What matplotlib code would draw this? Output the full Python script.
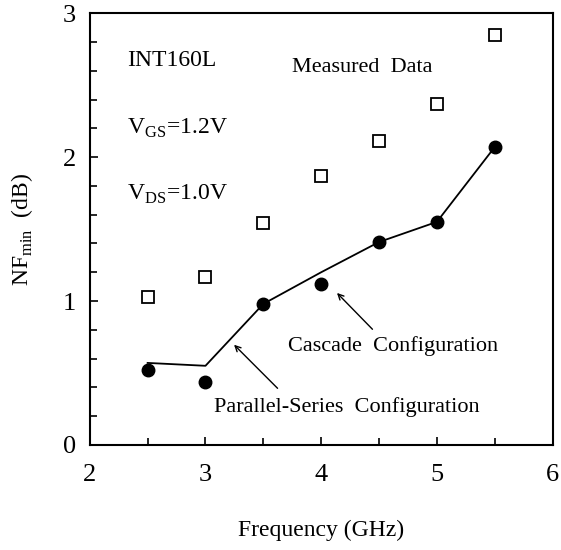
import matplotlib.pyplot as plt
from matplotlib.ticker import MultipleLocator

freq = [2.5, 3.0, 3.5, 4.0, 4.5, 5.0, 5.5]
measured = [1.03, 1.17, 1.54, 1.87, 2.11, 2.37, 2.85]
cascade = [0.52, 0.44, 0.98, 1.12, 1.41, 1.55, 2.07]
parallel_series = [0.57, 0.55, 0.98, 1.20, 1.41, 1.55, 2.07]

plt.rcParams["font.family"] = ["Liberation Serif", "DejaVu Serif"]

fig = plt.figure(figsize=(5.61, 5.50), dpi=100)
ax = fig.add_axes([0.160, 0.191, 0.825, 0.785])

ax.plot(freq, parallel_series, color="black", lw=1.3)
ax.plot(freq, measured, "s", ms=9, mfc="white", mec="black", mew=1.3, ls="none")
ax.plot(freq, cascade, "o", ms=9, color="black", ls="none")

ax.set_xlim(2, 6)
ax.set_ylim(0, 3)
ax.xaxis.set_major_locator(MultipleLocator(1))
ax.xaxis.set_minor_locator(MultipleLocator(0.5))
ax.yaxis.set_major_locator(MultipleLocator(1))
ax.yaxis.set_minor_locator(MultipleLocator(0.2))
ax.tick_params(which="both", direction="in", top=False, right=False,
               labelsize=19, width=1.2)
ax.tick_params(axis="x", which="major", length=6, pad=14)
ax.tick_params(axis="y", which="major", length=6, pad=10)
ax.tick_params(which="minor", length=5)
for s in ax.spines.values():
    s.set_linewidth(1.5)

ax.set_xlabel("Frequency (GHz)", fontsize=17, labelpad=24)
ax.set_ylabel(r"NF$_{\mathregular{min}}$  (dB)", fontsize=17, labelpad=20)

ax.text(2.32, 2.67, "INT160L", fontsize=17, va="center")
ax.text(3.75, 2.62, "Measured  Data", fontsize=16, va="center")
ax.text(2.32, 2.20, r"V$_{\mathregular{GS}}$=1.2V", fontsize=17, va="center")
ax.text(2.32, 1.74, r"V$_{\mathregular{DS}}$=1.0V", fontsize=17, va="center")

ax.annotate("Cascade  Configuration", xy=(4.12, 1.07), xytext=(3.71, 0.69),
            fontsize=16, va="center")
ax.annotate("", xy=(4.12, 1.07), xytext=(4.46, 0.79),
            arrowprops=dict(arrowstyle="->", color="black", lw=1))
ax.annotate("Parallel-Series  Configuration", xy=(3.23, 0.71), xytext=(3.07, 0.26),
            fontsize=16, va="center")
ax.annotate("", xy=(3.23, 0.71), xytext=(3.64, 0.38),
            arrowprops=dict(arrowstyle="->", color="black", lw=1))

fig.savefig("out.png", dpi=100)
